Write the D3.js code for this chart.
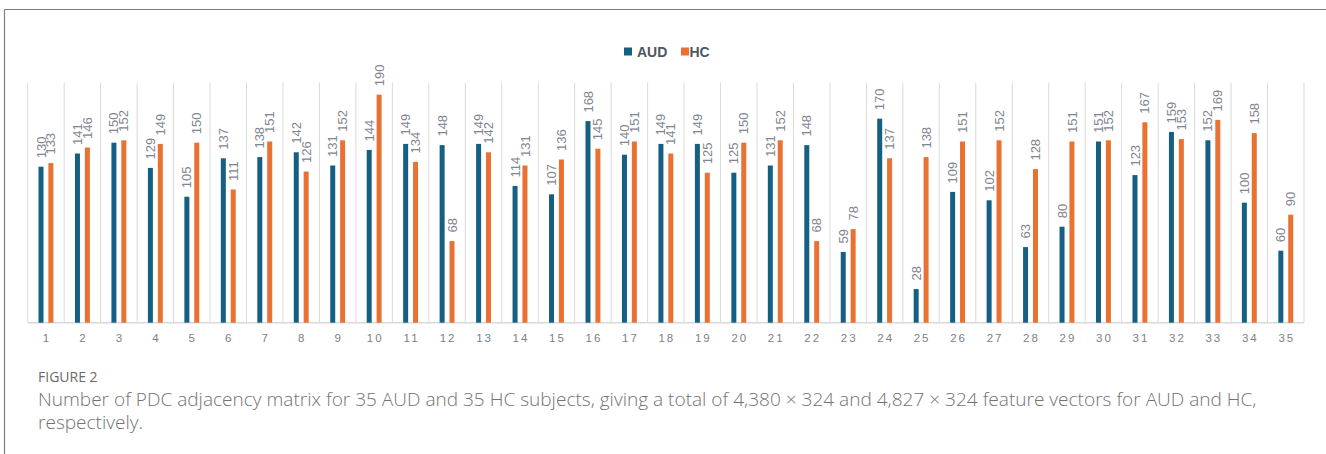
<!DOCTYPE html>
<html>
<head>
<meta charset="utf-8">
<script src="https://cdn.jsdelivr.net/npm/d3@7/dist/d3.min.js"></script>
<style>
  html, body { margin: 0; padding: 0; background: #ffffff; }
  svg { display: block; }
</style>
</head>
<body>
<svg id="fig" width="1326" height="454"></svg>
<script>
// Subjects 1..35 and the number of PDC adjacency matrices per subject
const categories = ["1","2","3","4","5","6","7","8","9","10","11","12","13","14","15","16","17","18","19","20","21","22","23","24","25","26","27","28","29","30","31","32","33","34","35"];
const seriesNames = ["AUD", "HC"];
const audValues = [130,141,150,129,105,137,138,142,131,144,149,148,149,114,107,168,140,149,149,125,131,148,59,170,28,109,102,63,80,151,123,159,152,100,60];
const hcValues  = [133,146,152,149,150,111,151,126,152,190,134,68,142,131,136,145,151,141,125,150,152,68,78,137,138,151,152,128,151,152,167,153,169,158,90];
const yDomain = [0, 200];
const figureLabel = "FIGURE 2";
const captionLines = [
  "Number of PDC adjacency matrix for 35 AUD and 35 HC subjects, giving a total of 4,380 \u00d7 324 and 4,827 \u00d7 324 feature vectors for AUD and HC,",
  "respectively."
];

const colors = { AUD: "#156082", HC: "#E97132" };

const svg = d3.select("#fig");

// Panel frame (top and left edges)
svg.append("line").attr("x1", 4.5).attr("x2", 1326).attr("y1", 9.5).attr("y2", 9.5)
  .attr("stroke", "#7d7d7d").attr("stroke-width", 1.2);
svg.append("line").attr("x1", 4.5).attr("x2", 4.5).attr("y1", 9.5).attr("y2", 454)
  .attr("stroke", "#7d7d7d").attr("stroke-width", 1.2);

// Scales
const plot = { left: 27.7, right: 1304, top: 82.7, bottom: 322.7 };
const x0 = d3.scaleBand().domain(categories).range([plot.left, plot.right]).padding(0);
const x1 = d3.scaleBand().domain(seriesNames).range([10.8, 25.7]).paddingInner(0.495);
const y = d3.scaleLinear().domain(yDomain).range([plot.bottom, plot.top]);

// Vertical separators between subjects
const gridX = categories.map(c => x0(c)).concat([plot.right]);
svg.append("g").selectAll("line").data(gridX).join("line")
  .attr("x1", d => d).attr("x2", d => d)
  .attr("y1", plot.top).attr("y2", plot.bottom)
  .attr("stroke", "#d9d9d9").attr("stroke-width", 1);

// Baseline
svg.append("line").attr("x1", plot.left).attr("x2", plot.right)
  .attr("y1", plot.bottom).attr("y2", plot.bottom)
  .attr("stroke", "#d9d9d9").attr("stroke-width", 1.5);

// Bars
const rows = categories.map((c, i) => ({ cat: c, AUD: audValues[i], HC: hcValues[i] }));
const marks = [];
rows.forEach(r => seriesNames.forEach(s => marks.push({ cat: r.cat, series: s, value: r[s] })));

svg.append("g").selectAll("rect").data(marks).join("rect")
  .attr("x", d => x0(d.cat) + x1(d.series))
  .attr("width", x1.bandwidth())
  .attr("y", d => y(d.value))
  .attr("height", d => y(0) - y(d.value))
  .attr("fill", d => colors[d.series]);

// Rotated value labels above bars
svg.append("g").selectAll("text").data(marks).join("text")
  .attr("transform", d => `translate(${x0(d.cat) + x1(d.series) + x1.bandwidth() / 2},${y(d.value) - 8.5}) rotate(-90)`)
  .attr("dy", "0.35em")
  .attr("text-anchor", "start")
  .attr("font-family", "'Liberation Sans', Arial, sans-serif")
  .attr("font-size", 13)
  .attr("fill", "#7f858f")
  .text(d => d.value);

// Category axis labels
const xAxis = d3.axisBottom(x0).tickSize(0).tickPadding(0);
const gx = svg.append("g").attr("transform", `translate(0,${plot.bottom})`).call(xAxis);
gx.select(".domain").remove();
gx.selectAll("text")
  .attr("y", 19.5)
  .attr("dy", 0)
  .attr("dx", "1px")
  .attr("font-family", "'Liberation Sans', Arial, sans-serif")
  .attr("font-size", 11.5)
  .attr("letter-spacing", "2px")
  .attr("fill", "#7a7f88");

// Legend
const legend = svg.append("g").attr("font-family", "'Liberation Sans', Arial, sans-serif")
  .attr("font-weight", "bold").attr("font-size", 14).attr("fill", "#4f5663");
const legendItems = [
  { name: "AUD", sx: 624, tx: 637 },
  { name: "HC", sx: 681, tx: 689.5 }
];
legendItems.forEach(it => {
  legend.append("rect").attr("x", it.sx).attr("y", 47.5).attr("width", 8).attr("height", 8)
    .attr("fill", colors[it.name]);
  legend.append("text").attr("x", it.tx).attr("y", 56.6).text(it.name);
});

// Caption
svg.append("text").attr("x", 38).attr("y", 381.5)
  .attr("font-family", "'Open Sans', 'Noto Sans', sans-serif")
  .attr("font-size", 14).attr("fill", "#6a6a6a")
  .text(figureLabel);

const capFont = 16.5;
const cap = svg.append("g").attr("font-family", "'Open Sans', 'Noto Sans', sans-serif")
  .attr("font-weight", 300)
  .attr("fill", "#737373");
const capLines = cap.selectAll("text").data(captionLines).join("text")
  .attr("x", 38)
  .attr("y", (d, i) => 406 + i * 23.4)
  .attr("font-size", capFont)
  .text(d => d);
// Fit the first caption line to its column width
const firstLen = capLines.node().getComputedTextLength();
if (firstLen > 0) {
  const fitted = capFont * 1219 / firstLen;
  capLines.attr("font-size", fitted);
}
</script>
</body>
</html>
